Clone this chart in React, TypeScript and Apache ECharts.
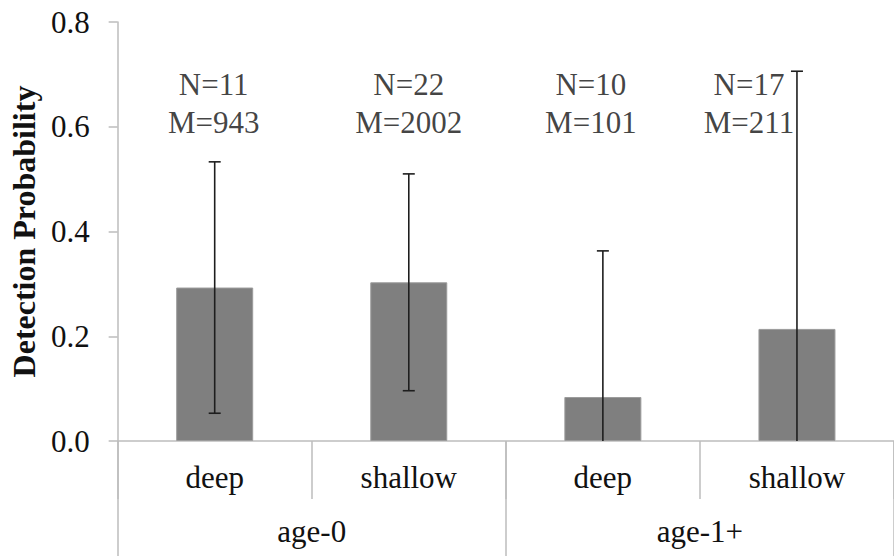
import React, { useEffect, useRef } from "react";
import * as echarts from "echarts";

// Habitat categories within each age class
const categories = ["deep", "shallow", "deep", "shallow"];
const ageGroups = ["age-0", "age-1+"];

// Mean detection probability and its error half-width per bar
const detection = [0.293, 0.303, 0.084, 0.214];
const errors = [0.24, 0.207, 0.279, 0.492];

// Sample sizes shown above each bar
const sampleN = [11, 22, 10, 17];
const sampleM = [943, 2002, 101, 211];

const yTicks = { min: 0, max: 0.8, interval: 0.2 };
const annotationY = 0.645;
const annotationShift = [-1, 0, -12, -48];

const FONT = '"Liberation Serif", "Times New Roman", serif';
const AXIS_GRAY = "#bdbdbd";
const TEXT = "#111";

export default function App() {
  const ref = useRef<HTMLDivElement | null>(null);

  useEffect(() => {
    if (!ref.current) return;
    const chart = echarts.init(ref.current, undefined, { renderer: "svg" });

    const errorData = detection.map((v, i) => {
      const lo = v - errors[i];
      return [i, Math.max(0, lo), v + errors[i], lo >= 0 ? 1 : 0];
    });

    const annotations = detection.map((_, i) => ({
      value: [i, annotationY],
      label: {
        show: true,
        position: "inside",
        offset: [annotationShift[i], 0],
        formatter: `N=${sampleN[i]}\nM=${sampleM[i]}`,
        fontSize: 31,
        lineHeight: 38,
        fontFamily: FONT,
        color: TEXT,
      },
    }));

    chart.setOption({
      animation: false,
      backgroundColor: "#fff",
      grid: { left: 117, top: 22, right: -8, bottom: 115, containLabel: false },
      xAxis: [
        {
          type: "category",
          data: categories,
          position: "bottom",
          axisLine: { show: true, lineStyle: { color: AXIS_GRAY, width: 1.5 } },
          axisTick: {
            show: true,
            alignWithLabel: false,
            interval: 0,
            length: 58,
            lineStyle: { color: AXIS_GRAY, width: 1.5 },
          },
          axisLabel: { fontSize: 31, fontFamily: FONT, color: TEXT, margin: 21, interval: 0 },
        },
        {
          type: "category",
          data: ageGroups,
          position: "bottom",
          offset: 0,
          axisLine: { show: false },
          axisTick: {
            show: true,
            alignWithLabel: false,
            interval: 0,
            length: 116,
            lineStyle: { color: AXIS_GRAY, width: 1.5 },
          },
          axisLabel: { fontSize: 31, fontFamily: FONT, color: TEXT, margin: 75, interval: 0 },
        },
      ],
      yAxis: {
        type: "value",
        min: yTicks.min,
        max: yTicks.max,
        interval: yTicks.interval,
        name: "Detection Probability",
        nameLocation: "middle",
        nameRotate: 90,
        nameGap: 77,
        nameTextStyle: { fontSize: 32, fontWeight: "bold", fontFamily: FONT, color: TEXT },
        axisLine: { show: true, lineStyle: { color: AXIS_GRAY, width: 1.5 } },
        axisTick: { show: true, length: 9, lineStyle: { color: AXIS_GRAY, width: 1.5 } },
        splitLine: { show: false },
        axisLabel: {
          fontSize: 31,
          fontFamily: FONT,
          color: TEXT,
          margin: 28,
          formatter: (v: number) => v.toFixed(1),
        },
      },
      series: [
        {
          type: "bar",
          xAxisIndex: 0,
          data: detection,
          barWidth: 77,
          itemStyle: { color: "#7f7f7f", borderColor: "#9c9c9c", borderWidth: 1 },
        },
        {
          type: "custom",
          xAxisIndex: 0,
          data: errorData,
          encode: { x: 0, y: [1, 2] },
          z: 5,
          renderItem: (params: any, api: any) => {
            const x = api.value(0);
            const lo = api.coord([x, api.value(1)]);
            const hi = api.coord([x, api.value(2)]);
            const capHalf = 6;
            const style = { stroke: "#1e1e1e", lineWidth: 1.6 };
            const children: any[] = [
              { type: "line", shape: { x1: hi[0], y1: hi[1], x2: lo[0], y2: lo[1] }, style },
              {
                type: "line",
                shape: { x1: hi[0] - capHalf, y1: hi[1], x2: hi[0] + capHalf, y2: hi[1] },
                style,
              },
            ];
            if (api.value(3) === 1) {
              children.push({
                type: "line",
                shape: { x1: lo[0] - capHalf, y1: lo[1], x2: lo[0] + capHalf, y2: lo[1] },
                style,
              });
            }
            return { type: "group", children };
          },
        },
        {
          type: "scatter",
          xAxisIndex: 0,
          symbolSize: 0,
          data: annotations,
          z: 6,
        },
      ],
    });

    return () => chart.dispose();
  }, []);

  return (
    <div
      ref={ref}
      style={{ position: "absolute", left: 0, top: 0, width: 894, height: 556 }}
    />
  );
}
